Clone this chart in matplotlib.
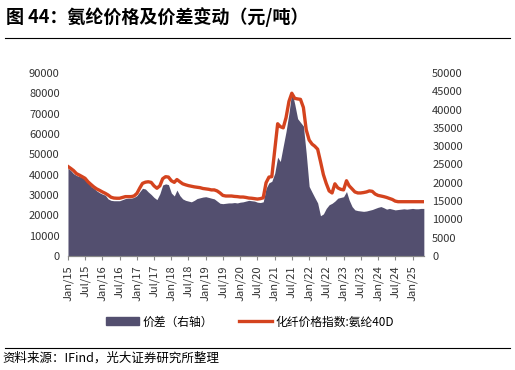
import pandas as pd
import matplotlib
matplotlib.use("Agg")
import matplotlib.pyplot as plt
import matplotlib.dates as mdates
from matplotlib.lines import Line2D
from matplotlib.patches import Patch

plt.rcParams['font.family'] = ['Noto Sans CJK SC', 'DejaVu Sans']

# monthly data, Jan 2015 - May 2025
months = pd.date_range("2015-01-01", "2025-05-01", freq="MS")

# 化纤价格指数:氨纶40D (left axis)
price = [
    44000, 43000, 42000, 40500, 39800, 39000, 38200, 36500, 35200, 34000, 33000, 32300,
    31500, 30800, 30000, 28900, 28500, 28400, 28400, 28800, 29200, 29200, 29200, 29500,
    30800, 33500, 35700, 36300, 36500, 36200, 34500, 33300, 34500, 38000, 39000, 38800,
    37000, 36200, 37600, 36500, 35500, 35000, 34600, 34300, 34000, 33800, 33600, 33200,
    33000, 32800, 32500, 32500, 32000, 31000, 29800, 29500, 29500, 29500, 29300, 29200,
    29000, 29000, 28800, 28500, 28400, 28200, 28000, 28200, 28600, 36000, 38800, 39000,
    52000, 65000, 63600, 63000, 68000, 76000, 80000, 77500, 77200, 77000, 73000, 62000,
    57000, 55000, 54000, 52500, 46500, 40000, 35700, 32000, 31000, 35500, 33500, 32800,
    32500, 37000, 34500, 33000, 31500, 31000, 31000, 31200, 31500, 32000, 31800, 30500,
    29800, 29500, 29200, 28800, 28300, 27800, 27000, 26700, 26700, 26700, 26700, 26700,
    26700, 26700, 26700, 26700, 26700,
]

# 价差 (right axis)
spread = [
    24000, 23300, 22500, 22000, 21700, 21600, 21500, 20300, 19000, 18500, 17800, 17300,
    16900, 16600, 15600, 15200, 15100, 15100, 15100, 15400, 15700, 15800, 15800, 16000,
    16500, 17600, 18500, 18300, 17500, 16800, 16000, 15400, 17000, 19400, 19700, 19500,
    17200, 16400, 18000, 16500, 15600, 15200, 15000, 14800, 15200, 15700, 15900, 16100,
    16200, 16000, 15800, 15600, 15000, 14400, 14300, 14400, 14500, 14500, 14600, 14500,
    14700, 14800, 15000, 15200, 15100, 15000, 14700, 14600, 14800, 18500, 20000, 20400,
    22600, 27000, 25800, 30000, 34000, 39000, 45000, 41500, 37500, 36500, 35500, 28000,
    19000, 17400, 16000, 14500, 11000, 11500, 13000, 14000, 14400, 15000, 15800, 16000,
    16200, 17600, 15300, 13500, 12600, 12400, 12300, 12200, 12300, 12500, 12700, 13000,
    13300, 13500, 13200, 12800, 13000, 12800, 12600, 12700, 12800, 12900, 12800, 12900,
    13000, 12900, 12900, 13000, 13000,
]

area_color = "#534F6F"
line_color = "#D4431E"

fig = plt.figure(figsize=(5.15, 3.7), dpi=100)
ax = fig.add_axes([0.132, 0.308, 0.691, 0.495])

ax.fill_between(months, spread, 0, color=area_color, linewidth=0)
ax.set_ylim(0, 50000)
ax.set_yticks(range(0, 50001, 5000))

ax2 = ax.twinx()
ax2.plot(months, price, color=line_color, linewidth=2.4)
ax2.set_ylim(0, 90000)
ax2.set_yticks(range(0, 90001, 10000))
ax2.yaxis.tick_left()
ax.yaxis.tick_right()

ax.set_xlim(months[0], months[-1])
ax.xaxis.set_major_locator(mdates.MonthLocator(bymonth=[1, 7]))
ax.xaxis.set_major_formatter(mdates.DateFormatter("%b/%y"))
ax.tick_params(axis="x", rotation=90, labelsize=8, length=3, color="#888888", colors="#333333")

for a in (ax, ax2):
    for s in ("top", "left", "right"):
        a.spines[s].set_visible(False)
    a.spines["bottom"].set_color("#888888")
    a.tick_params(axis="y", length=0, labelsize=8, colors="#333333", pad=6)

handles = [Patch(color=area_color), Line2D([], [], color=line_color, linewidth=2.4)]
fig.legend(handles, ["价差（右轴）", "化纤价格指数:氨纶40D"], loc="center",
           bbox_to_anchor=(0.485, 0.13), ncol=2, frameon=False, fontsize=8.5,
           handlelength=2.8, columnspacing=2.2, handletextpad=0.3)

fig.text(0.012, 0.955, "图 44：氨纶价格及价差变动（元/吨）", fontsize=13, fontweight="bold",
         va="center", ha="left")
fig.add_artist(Line2D([0.01, 0.99], [0.897, 0.897], color="black", linewidth=0.8))
fig.add_artist(Line2D([0.01, 0.99], [0.06, 0.06], color="black", linewidth=0.8))
fig.text(0.005, 0.032, "资料来源：IFind，光大证券研究所整理", fontsize=9, va="center", ha="left")

fig.savefig("out.png", dpi=100)
